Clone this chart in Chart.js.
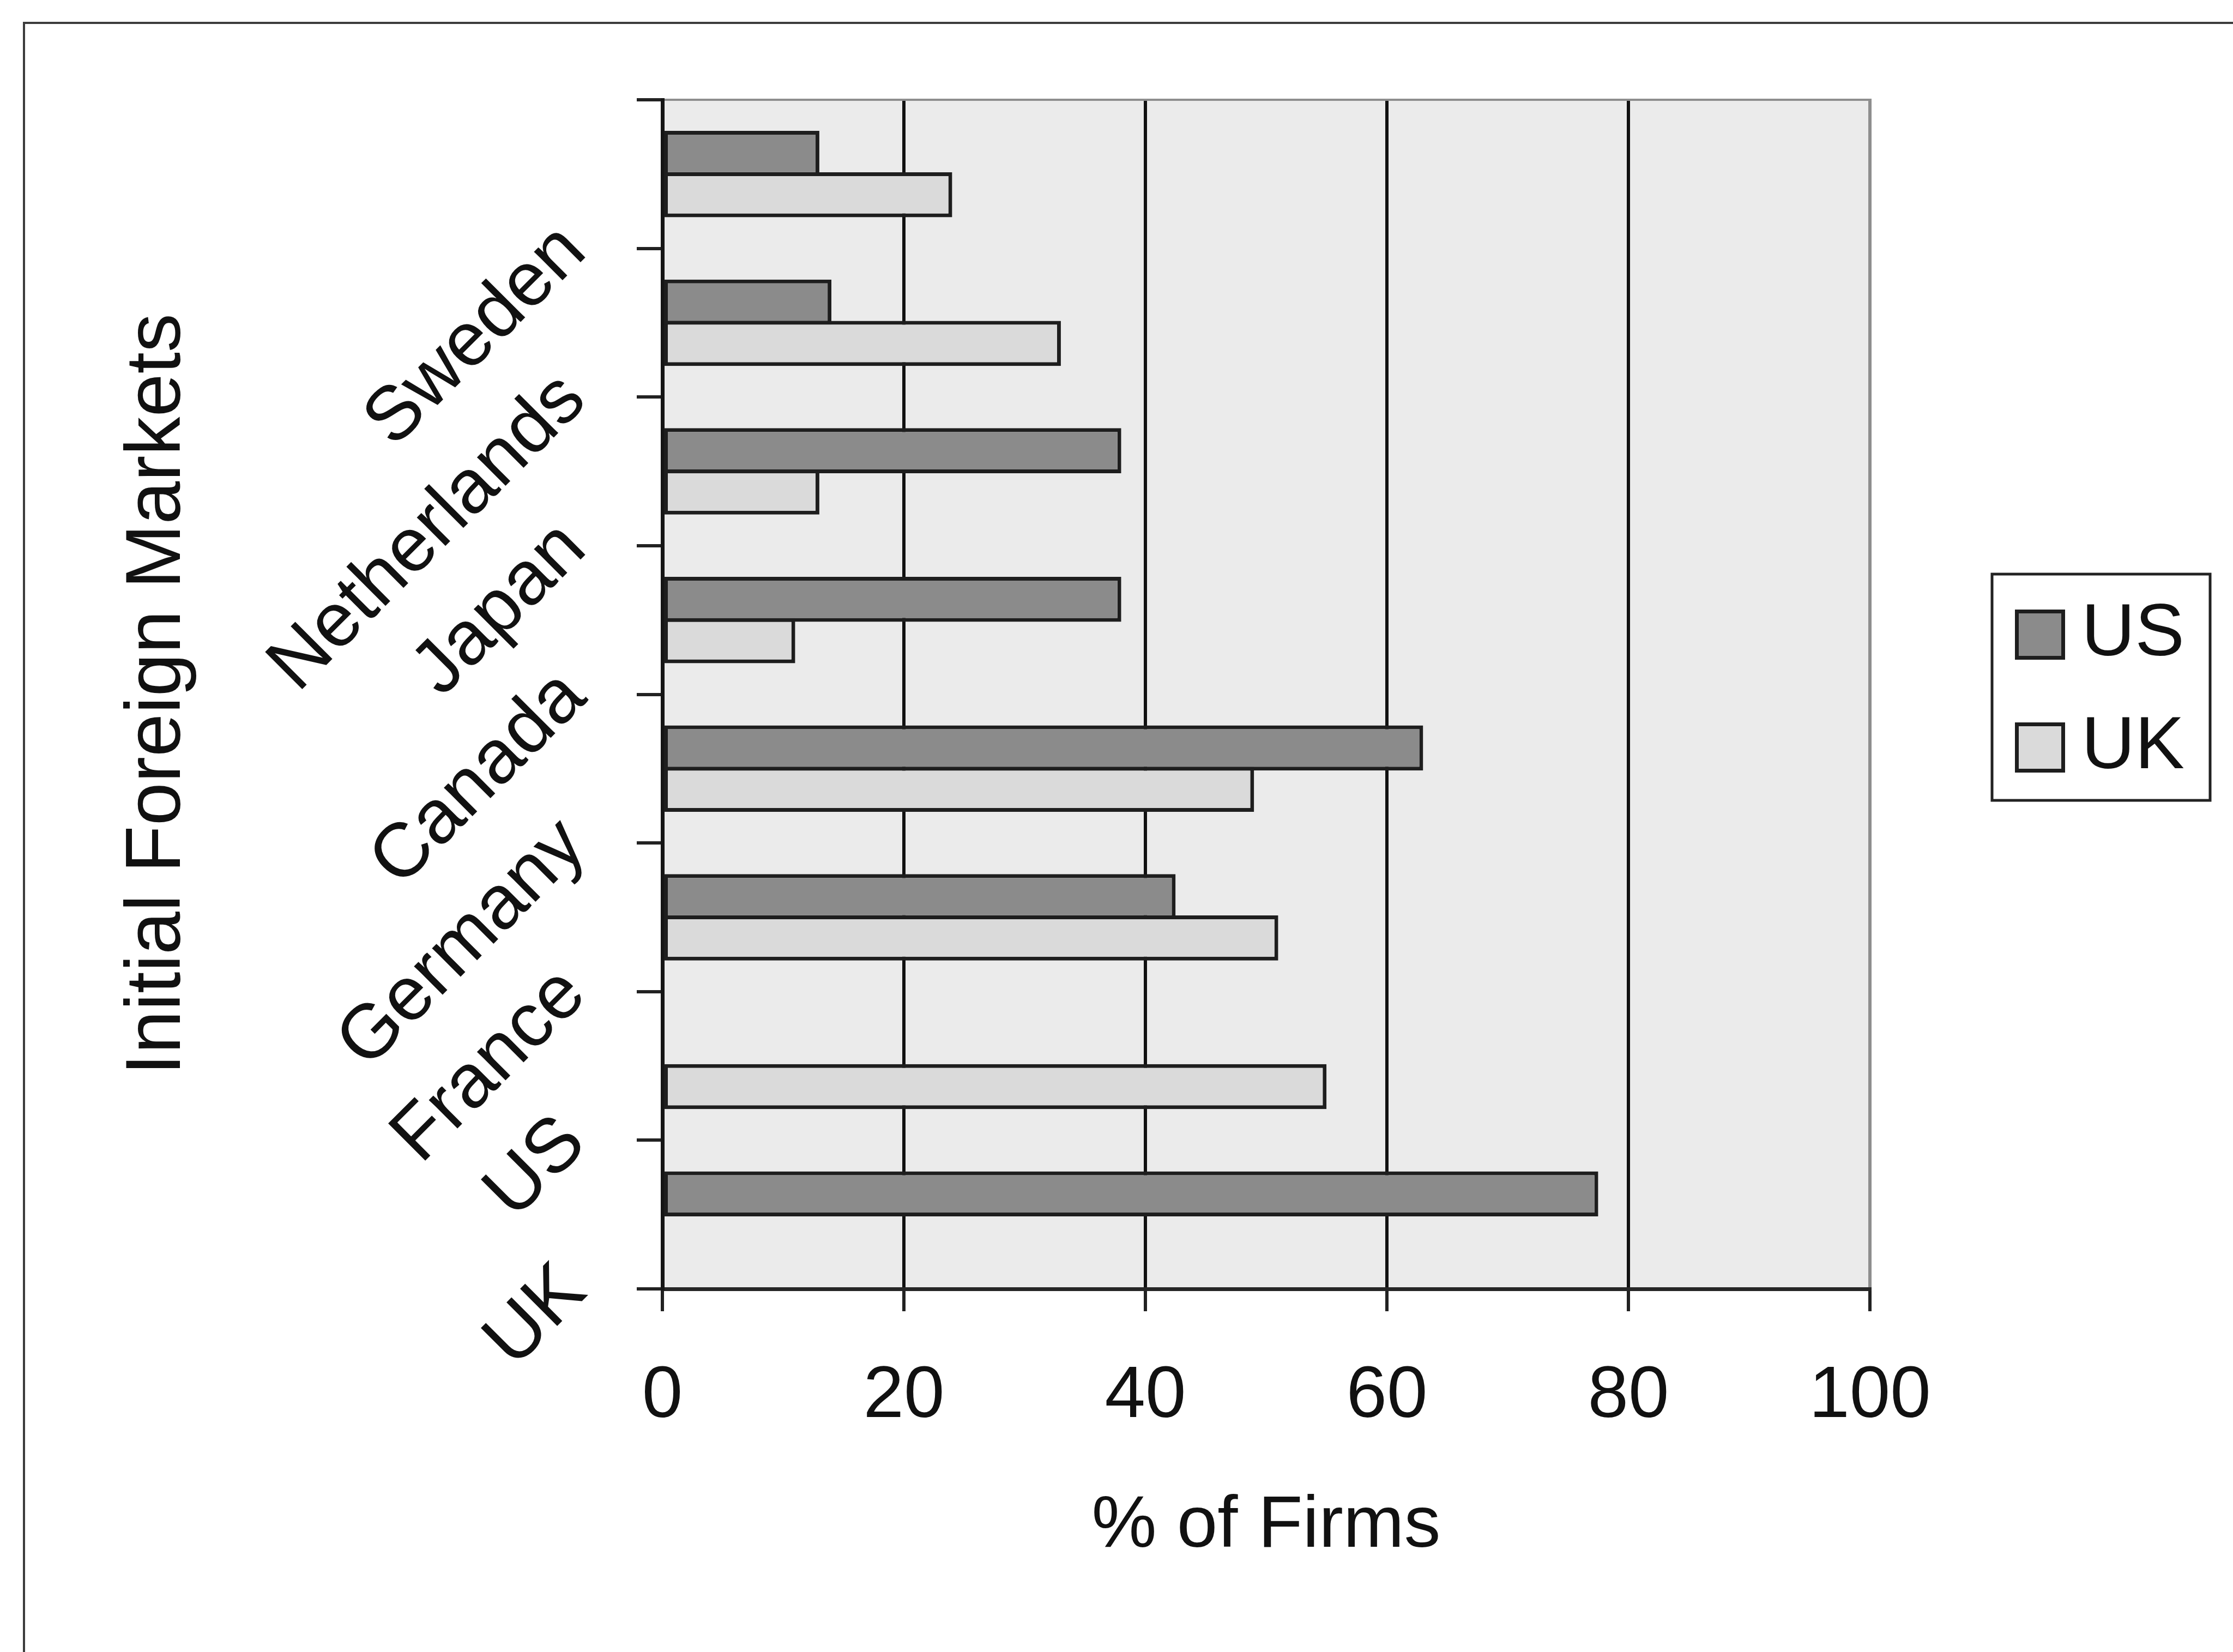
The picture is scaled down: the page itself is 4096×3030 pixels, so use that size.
<!DOCTYPE html>
<html>
<head>
<meta charset="utf-8">
<script src="https://cdn.jsdelivr.net/npm/chart.js@4.4.0/dist/chart.umd.min.js"></script>
<style>
html, body { margin: 0; padding: 0; background: #ffffff; }
canvas { display: block; }
</style>
</head>
<body>
<canvas id="chart" width="4096" height="3030"></canvas>
<script>
// Share of firms (%) by initial foreign market, US firms vs UK firms
const categories = ['Sweden', 'Netherlands', 'Japan', 'Canada', 'Germany', 'France', 'US', 'UK'];
const seriesNames = ['US', 'UK'];
const usFirms = [13, 14, 38, 38, 63, 42.5, null, 77.5];
const ukFirms = [24, 33, 13, 11, 49, 51, 55, null];
const percentTicks = [0, 20, 40, 60, 80, 100];
const xAxisTitle = '% of Firms';
const yAxisTitle = 'Initial Foreign Markets';

const FONT = "'Liberation Sans', Arial, Helvetica, sans-serif";
const INK = '#111111';

// Page frame, grey plot background and the plot's top edge
const framePlugin = {
  id: 'frame',
  beforeDraw(chart) {
    const { ctx, chartArea: a, width, height } = chart;
    ctx.save();
    ctx.fillStyle = '#ffffff';
    ctx.fillRect(0, 0, width, height);
    ctx.strokeStyle = '#3c3c3c';
    ctx.lineWidth = 4;
    ctx.strokeRect(44, 42, width, height);
    ctx.fillStyle = '#ebebeb';
    ctx.fillRect(a.left, a.top, a.right - a.left, a.bottom - a.top);
    ctx.restore();
  },
  beforeDatasetsDraw(chart) {
    const { ctx, chartArea: a } = chart;
    ctx.save();
    ctx.strokeStyle = '#8e8e8e';
    ctx.lineWidth = 4;
    ctx.beginPath();
    ctx.moveTo(a.left + 4, a.top);
    ctx.lineTo(a.right + 3, a.top);
    ctx.stroke();
    ctx.restore();
  }
};

// Category names, slanted at 45 degrees, ending just under each category's lower tick
const categoryLabelPlugin = {
  id: 'categoryLabels',
  afterDraw(chart) {
    const { ctx, chartArea: a } = chart;
    const y = chart.scales.y;
    const step = y.getPixelForValue(1) - y.getPixelForValue(0);
    ctx.save();
    ctx.font = '140px ' + FONT;
    ctx.fillStyle = INK;
    ctx.textAlign = 'right';
    ctx.textBaseline = 'alphabetic';
    chart.data.labels.forEach((label, i) => {
      const py = y.getPixelForValue(i) + step / 2 + 10;
      ctx.save();
      ctx.translate(a.left - 135, py);
      ctx.rotate(-Math.PI / 4);
      ctx.fillText(label, 0, 0);
      ctx.restore();
    });
    ctx.restore();
  }
};

// Boxed legend to the right of the plot
const legendPlugin = {
  id: 'boxLegend',
  afterDraw(chart) {
    const { ctx } = chart;
    const box = { x: 3654, y: 1053, w: 400, h: 415 };
    const rows = [1164, 1371];
    const sw = 92;
    ctx.save();
    ctx.fillStyle = '#ffffff';
    ctx.fillRect(box.x, box.y, box.w, box.h);
    ctx.strokeStyle = '#222222';
    ctx.lineWidth = 5;
    ctx.strokeRect(box.x, box.y, box.w, box.h);
    ctx.font = '136px ' + FONT;
    ctx.textBaseline = 'middle';
    ctx.textAlign = 'left';
    chart.data.datasets.forEach((ds, i) => {
      const cy = rows[i];
      ctx.fillStyle = ds.backgroundColor;
      ctx.fillRect(3696, cy - sw / 2, sw, sw);
      ctx.strokeStyle = ds.borderColor;
      ctx.lineWidth = 7;
      ctx.strokeRect(3696 + 3.5, cy - sw / 2 + 3.5, sw - 7, sw - 7);
      ctx.fillStyle = INK;
      ctx.fillText(ds.label, 3818, cy);
    });
    ctx.restore();
  }
};

new Chart(document.getElementById('chart'), {
  type: 'bar',
  data: {
    labels: categories,
    datasets: [
      { label: seriesNames[0], data: usFirms, backgroundColor: '#8b8b8b', borderColor: '#1e1e1e', borderWidth: 7, borderSkipped: false },
      { label: seriesNames[1], data: ukFirms, backgroundColor: '#dadada', borderColor: '#1e1e1e', borderWidth: 7, borderSkipped: false }
    ]
  },
  options: {
    indexAxis: 'y',
    responsive: false,
    animation: false,
    events: [],
    categoryPercentage: 0.5567,
    barPercentage: 1.09,
    layout: { padding: { top: 183, right: 666, bottom: 0, left: 0 } },
    plugins: { legend: { display: false }, tooltip: { enabled: false } },
    scales: {
      x: {
        type: 'linear',
        min: 0,
        max: 100,
        afterBuildTicks(scale) { scale.ticks = percentTicks.map(v => ({ value: v })); },
        afterFit(scale) { scale.height = 666; },
        grid: {
          color: c => (c.tick && c.tick.value === 100 ? '#8e8e8e' : '#111111'),
          lineWidth: c => (c.tick && c.tick.value === 100 ? 6 : 6),
          tickColor: '#222222',
          tickWidth: 6,
          tickLength: 41,
          drawTicks: true
        },
        border: { display: true, color: '#262626', width: 7 },
        ticks: { padding: 77, maxRotation: 0, font: { size: 134, family: FONT }, color: INK },
        title: { display: true, text: xAxisTitle, color: INK, font: { size: 134, family: FONT }, padding: { top: 0, bottom: 150 } }
      },
      y: {
        type: 'category',
        offset: true,
        afterFit(scale) { scale.width = 1215; },
        grid: { offset: true, drawOnChartArea: false, drawTicks: true, tickLength: 47, color: '#222222', lineWidth: 6 },
        border: { display: true, color: '#151515', width: 7 },
        ticks: { display: false },
        title: { display: true, text: yAxisTitle, color: INK, font: { size: 142, family: FONT }, padding: { top: 206, bottom: 0 } }
      }
    }
  },
  plugins: [framePlugin, categoryLabelPlugin, legendPlugin]
});
</script>
</body>
</html>
